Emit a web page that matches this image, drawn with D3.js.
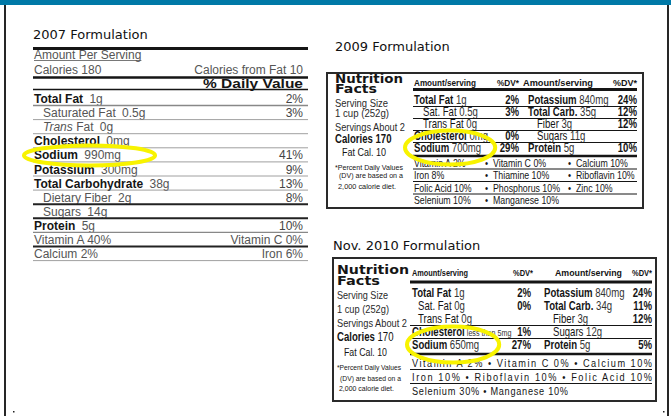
<!DOCTYPE html>
<html>
<head>
<meta charset="utf-8">
<script src="https://cdn.jsdelivr.net/npm/d3@7/dist/d3.min.js"></script>
<style>
  body { margin: 0; background: #fff; }
  svg { display: block; }
</style>
</head>
<body>
<svg id="chart" width="671" height="416"></svg>
<script>
var titles = ['2007 Formulation', '2009 Formulation', 'Nov. 2010 Formulation'];

// 2007 label
var nutrients07 = ['Total Fat', 'Saturated Fat', 'Trans Fat', 'Cholesterol', 'Sodium', 'Potassium',
  'Total Carbohydrate', 'Dietary Fiber', 'Sugars', 'Protein'];
var amounts07 = ['1g', '0.5g', '0g', '0mg', '990mg', '300mg', '38g', '2g', '14g', '5g'];
var dv07 = ['2%', '3%', '', '', '41%', '9%', '13%', '8%', '', '10%'];
var vitamins07 = ['Vitamin A', 'Vitamin C', 'Calcium', 'Iron'];
var vitaminDv07 = ['40%', '0%', '2%', '6%'];
var calories07 = 180, fatCalories07 = 10;

// 2009 + 2010 labels (same left panel)
var servingInfo = ['Serving Size', '1 cup (252g)', 'Servings About 2'];
var footnote = ['*Percent Daily Values', '(DV) are based on a', '2,000 calorie diet.'];
var calories = 170, fatCalories = 10;
var leftNames = ['Total Fat', 'Sat. Fat', 'Trans Fat', 'Cholesterol', 'Sodium'];
var rightNames = ['Potassium', 'Total Carb.', 'Fiber', 'Sugars', 'Protein'];

var leftAmts09 = ['1g', '0.5g', '0g', '0mg', '700mg'];
var leftDv09 = ['2%', '3%', '', '0%', '29%'];
var rightAmts09 = ['840mg', '35g', '3g', '11g', '5g'];
var rightDv09 = ['24%', '12%', '12%', '', '10%'];
var vitamins09 = [['Vitamin A 2%', 'Vitamin C 0%', 'Calcium 10%'],
  ['Iron 8%', 'Thiamine 10%', 'Riboflavin 10%'],
  ['Folic Acid 10%', 'Phosphorus 10%', 'Zinc 10%'],
  ['Selenium 10%', 'Manganese 10%']];

var leftAmts10 = ['1g', '0g', '0g', 'less than 5mg', '650mg'];
var leftDv10 = ['2%', '0%', '', '1%', '27%'];
var rightAmts10 = ['840mg', '34g', '3g', '12g', '5g'];
var rightDv10 = ['24%', '11%', '12%', '', '5%'];
var vitamins10 = [['Vitamin A 2%', 'Vitamin C 0%', 'Calcium 10%'],
  ['Iron 10%', 'Riboflavin 10%', 'Folic Acid 10%'],
  ['Selenium 30%', 'Manganese 10%']];

var subItems = ['Saturated Fat', 'Trans Fat', 'Dietary Fiber', 'Sugars', 'Sat. Fat', 'Fiber'];

var SANS = '"Liberation Sans", Arial, Helvetica, sans-serif';
var WIDE = '"DejaVu Sans", Verdana, sans-serif';
var GRAY = '#555', DARK = '#151515', YELLOW = '#f8f300';
var NX = 0.8;   // horizontal squeeze for the condensed label type

var svg = d3.select('#chart');

function txt(g, x, y, s, o) {
  o = o || {};
  var t = g.append('text').attr('x', x).attr('y', y).text(s)
    .attr('font-family', o.family || SANS)
    .attr('font-size', o.size || 12)
    .attr('fill', o.fill || DARK);
  if (o.weight) t.attr('font-weight', o.weight);
  if (o.anchor) t.attr('text-anchor', o.anchor);
  if (o.len) t.attr('textLength', o.len).attr('lengthAdjust', o.adjust || 'spacingAndGlyphs');
  return t;
}

// condensed text: Arial-like face squeezed sideways
function ntxt(g, x, y, s, o) {
  o = o || {};
  var t = g.append('text')
    .attr('transform', 'translate(' + x + ',' + y + ') scale(' + NX + ',1)')
    .text(s)
    .attr('font-family', SANS)
    .attr('font-size', o.size || 12)
    .attr('fill', o.fill || DARK);
  if (o.weight) t.attr('font-weight', o.weight);
  if (o.anchor) t.attr('text-anchor', o.anchor);
  if (o.len) t.attr('textLength', o.len / NX).attr('lengthAdjust', o.adjust || 'spacingAndGlyphs');
  return t;
}

function rule(g, x1, x2, y, w, c) {
  g.append('line').attr('x1', x1).attr('x2', x2).attr('y1', y).attr('y2', y)
    .attr('stroke', c || DARK).attr('stroke-width', w);
}

// ring round a text, padded from its box
function ring(node, padL, padR, ry, dy) {
  var sv = svg.node().getBoundingClientRect();
  var bb = node.getBoundingClientRect();
  var x1 = bb.left - sv.left - padL, x2 = bb.right - sv.left + padR;
  svg.append('ellipse')
    .attr('cx', (x1 + x2) / 2).attr('cy', bb.top - sv.top + bb.height / 2 + dy)
    .attr('rx', (x2 - x1) / 2).attr('ry', ry)
    .attr('fill', 'none').attr('stroke', YELLOW).attr('stroke-width', 4);
}

// page frame
svg.append('rect').attr('x', 0).attr('y', 0).attr('width', 671).attr('height', 5).attr('fill', '#0079a7');
svg.append('rect').attr('x', 4).attr('y', 5).attr('width', 2).attr('height', 411).attr('fill', '#262626');
svg.append('rect').attr('x', 667).attr('y', 5).attr('width', 2).attr('height', 411).attr('fill', '#262626');
svg.append('rect').attr('x', 13).attr('y', 411).attr('width', 1.5).attr('height', 1.5).attr('fill', '#222');
svg.append('rect').attr('x', 663).attr('y', 411).attr('width', 1.5).attr('height', 1.5).attr('fill', '#222');

var titlePos = [[33, 39], [335, 51], [333, 250]];
titles.forEach(function (s, i) {
  txt(svg, titlePos[i][0], titlePos[i][1], s, {family: WIDE, size: 13, fill: '#111'});
});

// ---------- 2007 ----------
var g07 = svg.append('g');
var L07 = 33, R07 = 308, TX07 = 303;
rule(g07, L07, R07, 48.5, 3.2);
var aps = txt(g07, L07 + 1, 59, 'Amount Per Serving', {fill: GRAY});
rule(g07, L07 + 1, L07 + 1 + aps.node().getComputedTextLength(), 60.5, 0.8, GRAY);
txt(g07, L07 + 1, 74, 'Calories ' + calories07, {fill: GRAY});
txt(g07, TX07, 74, 'Calories from Fat ' + fatCalories07, {fill: GRAY, anchor: 'end'});
rule(g07, L07, R07, 77.5, 2.4);
txt(g07, TX07, 87.5, '% Daily Value', {weight: 'bold', size: 12.5, anchor: 'end', len: 100});
rule(g07, L07, R07, 89.5, 1.4);

var y07 = d3.scaleLinear().domain([0, 11]).range([98.5, 253.6]);
var ruleW07 = [1.3, 0.8, 0.8, 0.8, 0.8, 0.8, 0.8, 2, 2, 1.3, 2, 0.8];
var sodium07;
nutrients07.forEach(function (n, i) {
  var sub = subItems.indexOf(n) >= 0;
  var t = txt(g07, sub ? L07 + 10 : L07 + 1, y07(i) + 4.5, '', {fill: GRAY});
  if (n === 'Trans Fat') {
    t.append('tspan').attr('font-style', 'italic').text('Trans');
    t.append('tspan').text(' Fat');
  } else {
    t.append('tspan').attr('font-weight', sub ? 'normal' : 'bold').attr('fill', sub ? GRAY : DARK).text(n);
  }
  t.append('tspan').attr('dx', 3).text(' ' + amounts07[i]);
  if (n === 'Sodium') sodium07 = t.node();
  if (dv07[i]) txt(g07, TX07, y07(i) + 4.5, dv07[i], {fill: '#444', anchor: 'end'});
});
[0, 1].forEach(function (r) {
  var i = nutrients07.length + r;
  txt(g07, L07 + 1, y07(i) + 4.5, vitamins07[r * 2] + '  ' + vitaminDv07[r * 2], {fill: GRAY});
  txt(g07, TX07, y07(i) + 4.5, vitamins07[r * 2 + 1] + ' ' + vitaminDv07[r * 2 + 1], {fill: GRAY, anchor: 'end'});
});
ruleW07.forEach(function (w, i) {
  rule(g07, L07, R07, y07(i) + 7, w, w > 1.5 ? '#222' : '#888');
});

// ---------- compact labels ----------
function compact(o) {
  var g = svg.append('g');
  var b = o.box;
  g.append('rect').attr('x', b.x).attr('y', b.y).attr('width', b.w).attr('height', b.h)
    .attr('fill', 'none').attr('stroke', '#2a2a2a').attr('stroke-width', 2);

  var p = o.panel;
  txt(g, p.x, p.y[0], 'Nutrition', {family: WIDE, size: 13, weight: 'bold', len: p.w[0]});
  txt(g, p.x, p.y[1], 'Facts', {family: WIDE, size: 13, weight: 'bold', len: p.w[1]});
  servingInfo.forEach(function (s, i) {
    txt(g, p.x, p.y[2 + i], s, {size: 11, fill: '#2a2a2a', len: p.w[2 + i]});
  });
  var c = ntxt(g, p.x, p.y[5], '', {size: 12});
  c.append('tspan').attr('font-weight', 'bold').text('Calories');
  c.append('tspan').attr('font-weight', o.calBold ? 'bold' : 'normal').text(' ' + calories);
  txt(g, p.xFat, p.y[6], 'Fat Cal. ' + fatCalories, {size: 11.5, len: p.w[6]});
  footnote.forEach(function (s, i) {
    txt(g, p.xFoot[i], p.y[7 + i], s, {size: 7.5, len: p.w[7 + i]});
  });

  var t = o.table;
  var heads = ['Amount/serving', '%DV*', 'Amount/serving', '%DV*'];
  heads.forEach(function (h, i) {
    ntxt(g, t.headX[i], t.headY, h, {size: 9, weight: 'bold', len: t.headW[i],
      anchor: i % 2 ? 'end' : 'start'});
  });
  rule(g, t.x0, t.x1, t.headRule, 3);

  var y = d3.scaleLinear().domain([0, 4]).range(t.rows);
  var cols = [
    {names: leftNames, amts: o.leftAmts, dv: o.leftDv},
    {names: rightNames, amts: o.rightAmts, dv: o.rightDv}
  ];
  var sodium;
  cols.forEach(function (col, k) {
    col.names.forEach(function (n, i) {
      var sub = subItems.indexOf(n) >= 0;
      var tx = ntxt(g, sub ? t.subX[k] : t.mainX[k], y(i) + 4, '', {size: 12});
      tx.append('tspan').attr('font-weight', sub ? 'normal' : 'bold').text(n);
      tx.append('tspan').attr('fill', '#333')
        .attr('font-size', col.amts[i].length > 6 ? 9 : 12)
        .text(' ' + col.amts[i]);
      if (n === 'Sodium') sodium = tx.node();
      if (col.dv[i]) ntxt(g, t.dvEnd[k], y(i) + 4, col.dv[i], {size: 12, weight: 'bold', anchor: 'end'});
    });
  });
  t.thin.forEach(function (i) { rule(g, t.x0, t.x1, y(i) + 6.5, 1); });
  rule(g, t.x0, t.x1, y(4) + t.thickGap, 2.6);

  var vy = d3.scaleLinear().domain([0, o.vitamins.length - 1]).range(t.vit);
  o.vitamins.forEach(function (row, r) {
    if (t.vitJustify) {
      ntxt(g, t.mainX[0], vy(r) + 4, row.join(' \u2022 '), {size: 11.5,
        len: t.vitW[r], adjust: 'spacing'});
    } else {
      row.forEach(function (s, j) {
        ntxt(g, t.vitX[j], vy(r) + 4, s, {size: 11});
        if (j > 0) ntxt(g, t.vitX[j] - 8, vy(r) + 4, '\u2022', {size: 11});
      });
    }
  });
  t.vitRules.forEach(function (i) { rule(g, t.x0, t.x1, vy(i) + 6.5, 1); });
  return sodium;
}

var sodium09 = compact({
  box: {x: 327, y: 73, w: 316, h: 135},
  panel: {x: 335, xFat: 342, xFoot: [335, 339, 338],
    y: [82.5, 92.5, 107, 117, 131, 143, 156, 169.5, 177.5, 188.5],
    w: [68, 42, 53, 54, 70, 56, 44, 68, 64, 58]},
  calBold: true,
  table: {x0: 413, x1: 637, headY: 86, headX: [414, 519, 523, 637], headW: [62, 22, 70, 24],
    headRule: 89.5, rows: [100, 148], mainX: [414, 528], subX: [423, 537], dvEnd: [519, 637],
    thin: [0, 1, 2, 3], thickGap: 8, vit: [162.5, 200], vitX: [414, 493, 576], vitRules: [0, 1, 2]},
  leftAmts: leftAmts09, leftDv: leftDv09, rightAmts: rightAmts09, rightDv: rightDv09,
  vitamins: vitamins09
});

var sodium10 = compact({
  box: {x: 333, y: 258, w: 323, h: 143},
  panel: {x: 337, xFat: 344, xFoot: [337, 340, 339],
    y: [273.5, 284.5, 299, 312.5, 327, 341, 356, 369.5, 380.5, 390.5],
    w: [72, 43, 51, 52, 70, 54, 43, 64, 61, 55]},
  calBold: false,
  table: {x0: 410, x1: 652, headY: 276, headX: [412, 533, 555, 652], headW: [56, 20, 67, 20],
    headRule: 282, rows: [293, 345], mainX: [412, 544], subX: [418, 553], dvEnd: [531, 652],
    thin: [2, 3], thickGap: 9, vit: [363, 391], vitJustify: true, vitW: [240, 240, 156], vitRules: [0, 1]},
  leftAmts: leftAmts10, leftDv: leftDv10, rightAmts: rightAmts10, rightDv: rightDv10,
  vitamins: vitamins10
});

ring(sodium07, 10, 34, 10, 0);
ring(sodium09, 9, 14, 17, 0);
ring(sodium10, 5, 20, 18, 0);
</script>
</body>
</html>
